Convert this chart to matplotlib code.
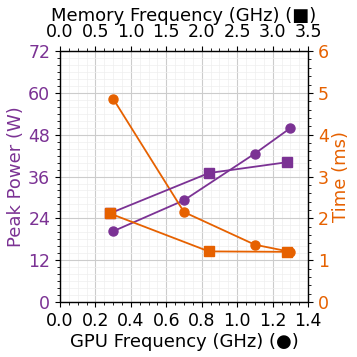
import matplotlib
matplotlib.use("Agg")
import matplotlib.pyplot as plt
from matplotlib.ticker import MultipleLocator

purple = '#7B3294'
orange = '#E66100'

gpu_freq = [0.3, 0.7, 1.1, 1.3]
gpu_power = [20.3, 29.2, 42.6, 49.9]
gpu_time = [4.86, 2.15, 1.37, 1.2]

mem_freq = [0.7, 2.1, 3.2]
mem_power = [25.4, 37.0, 40.1]
mem_time = [2.12, 1.21, 1.2]

fig = plt.figure(figsize=(3.57, 3.57), dpi=100)
ax = fig.add_axes([0.168, 0.154, 0.695, 0.703])
ax_t = ax.twinx()
ax_top = ax.twiny()
ax_top_t = ax_top.twinx()

fs = 13
tfs = 12.5

# GPU frequency series (circles)
ax.plot(gpu_freq, gpu_power, '-o', color=purple, ms=6.5, lw=1.3, zorder=3)
ax_t.plot(gpu_freq, gpu_time, '-o', color=orange, ms=6.5, lw=1.3, zorder=3)

# memory frequency series (squares)
ax_top.plot(mem_freq, mem_power, '-s', color=purple, ms=6.5, lw=1.3, zorder=3)
ax_top_t.plot(mem_freq, mem_time, '-s', color=orange, ms=6.5, lw=1.3, zorder=3)

ax.set_xlim(0, 1.4)
ax_top.set_xlim(0, 3.5)
ax.set_ylim(0, 72)
ax_t.set_ylim(0, 6)
ax_top_t.set_ylim(0, 6)
ax_top_t.yaxis.set_visible(False)

ax.xaxis.set_major_locator(MultipleLocator(0.2))
ax.xaxis.set_minor_locator(MultipleLocator(0.05))
ax_top.xaxis.set_major_locator(MultipleLocator(0.5))
ax_top.xaxis.set_minor_locator(MultipleLocator(0.125))
ax.yaxis.set_major_locator(MultipleLocator(12))
ax.yaxis.set_minor_locator(MultipleLocator(2))
ax_t.yaxis.set_major_locator(MultipleLocator(1))
ax_t.yaxis.set_minor_locator(MultipleLocator(0.2))

ax.grid(which='major', color='#cccccc', lw=0.8)
ax.grid(which='minor', color='#eeeeee', lw=0.5)

ax.tick_params(axis='x', labelsize=tfs)
ax_top.tick_params(axis='x', labelsize=tfs)
ax.tick_params(axis='y', labelsize=tfs, labelcolor=purple)
ax_t.tick_params(axis='y', labelsize=tfs, labelcolor=orange)

ax.set_xlabel('GPU Frequency (GHz) (●)', fontsize=fs, labelpad=2)
ax_top.set_xlabel('Memory Frequency (GHz) (■)', fontsize=fs, labelpad=2)
ax.set_ylabel('Peak Power (W)', fontsize=fs, color=purple, labelpad=2)
ax_t.set_ylabel('Time (ms)', fontsize=fs, color=orange, labelpad=2)

fig.savefig('out.png', dpi=100)
